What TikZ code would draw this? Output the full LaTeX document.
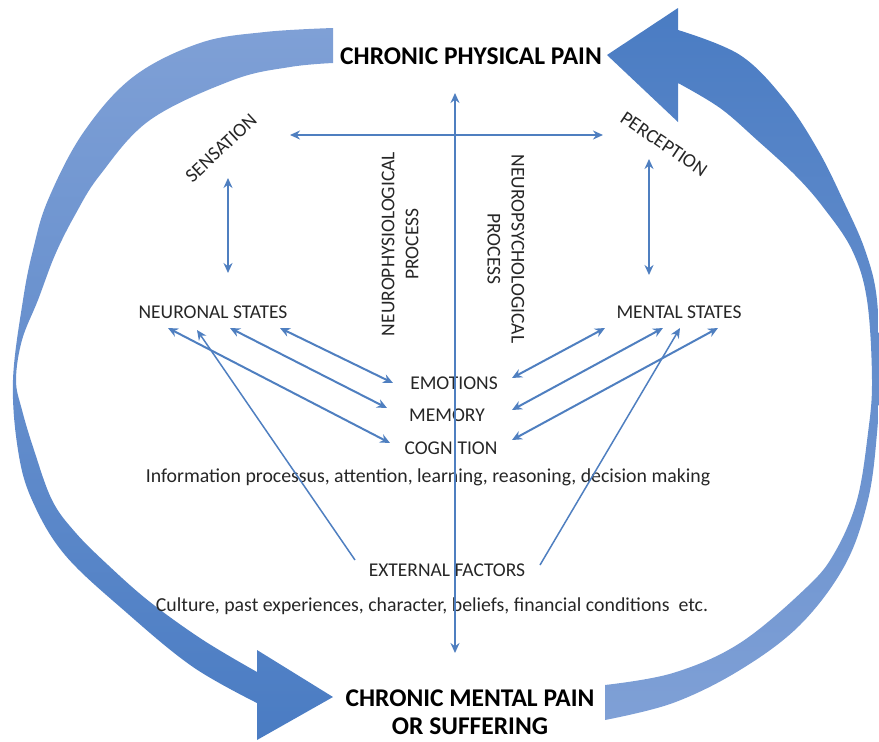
\documentclass[tikz,border=0pt]{standalone}
\usepackage{fontspec}
\setmainfont{Carlito}
\usetikzlibrary{arrows.meta}
\definecolor{lnblue}{HTML}{4F7FC0}
\definecolor{bandlight}{HTML}{7FA0D6}
\definecolor{banddark}{HTML}{4A7CC3}
\definecolor{txt}{HTML}{262626}
\begin{document}
\begin{tikzpicture}[x=1pt,y=-1pt,
  lbl/.style={font=\fontsize{19.5}{24}\selectfont, text=txt, inner sep=0pt},
  dsc/.style={font=\fontsize{19.8}{24}\selectfont, text=txt, inner sep=0pt},
  ttl/.style={font=\fontsize{25.5}{28}\selectfont\bfseries, text=black, inner sep=0pt, align=center},
  dbl/.style={draw=lnblue, line width=2pt, {Stealth[length=10pt,width=9pt]}-{Stealth[length=10pt,width=9pt]}},
  sgl/.style={draw=lnblue, line width=1.5pt, -{Stealth[length=10pt,width=9pt]}},
]
\useasboundingbox (0,0) rectangle (879,742);

% left curved band (physical -> mental)
\path[top color=bandlight, bottom color=banddark]
  (333,63) -- plot[smooth, tension=0.6] coordinates {(333,28) (265,32) (200,43) (133,77) (83,133) (48,200) (33,250) (23,300) (13,380) (18,450) (32,500) (65,555) (127,613) (193,667) (257,703)}
  -- (257,740) -- (333,697) -- (257,650)
  -- plot[smooth, tension=0.6] coordinates {(257,672) (203,640) (150,602) (108,565) (75,532) (52,500) (34,450) (22,410) (16,380) (22,340) (38,300) (55,255) (75,215) (100,175) (150,120) (233,80) (290,67) (333,63)}
  -- cycle;

% right curved band (mental -> physical)
\path[top color=banddark, bottom color=bandlight]
  (605,685) -- plot[smooth, tension=0.6] coordinates {(605,720) (673,703) (740,670) (800,625) (845,565) (868,500) (877,433) (879,380) (877,300) (865,250) (843,200) (818,150) (785,100) (740,55) (678,30)}
  -- (678,8) -- (607,55) -- (678,122)
  -- plot[smooth, tension=0.6] coordinates {(678,83) (720,108) (757,140) (795,175) (823,207) (852,250) (867,300) (872,380) (868,433) (857,500) (835,552) (807,587) (740,643) (673,673) (605,685)}
  -- cycle;

% titles
\node[ttl] (phys) at (471,56) {CHRONIC PHYSICAL PAIN};
\node[ttl] (ment) at (470,712) {CHRONIC MENTAL PAIN\\OR SUFFERING};

% labels
\node[lbl, rotate=43] (sens) at (221,148) {SENSATION};
\node[lbl, rotate=-34] (perc) at (664,144) {PERCEPTION};
\node[lbl] (neur) at (213,312) {NEURONAL STATES};
\node[lbl] (mst) at (679,312) {MENTAL STATES};
\node[lbl, rotate=90, align=center] (nphys) at (400,244) {NEUROPHYSIOLOGICAL\\PROCESS};
\node[lbl, rotate=-90, align=center] (npsy) at (506,249) {NEUROPSYCHOLOGICAL\\PROCESS};
\node[lbl] (emo) at (454,383) {EMOTIONS};
\node[lbl] (mem) at (447,415) {MEMORY};
\node[lbl] (cog) at (451,448) {COGNITION};
\node[dsc, anchor=base] (cogd) at (428,482) {Information processus, attention, learning, reasoning, decision making};
\node[lbl] (ext) at (447,570) {EXTERNAL FACTORS};
\node[dsc, anchor=base] (extd) at (432,611) {Culture, past experiences, character, beliefs, financial conditions\ \ etc.};

% connector end points
\coordinate (sensR) at (290,135);
\coordinate (percL) at (603,135);
\coordinate (physB) at (455,93);
\coordinate (mentT) at (455,653);
\coordinate (sensB) at (228,178);
\coordinate (neurT) at (228,273);
\coordinate (percB) at (649,159);
\coordinate (mstT) at (649,275);
\coordinate (n1) at (168,328);
\coordinate (n2) at (197,330);
\coordinate (n3) at (230,328);
\coordinate (n4) at (280,328);
\coordinate (m1) at (605,328);
\coordinate (m2) at (663,328);
\coordinate (m3) at (680,328);
\coordinate (m4) at (718,328);
\coordinate (emoL) at (393,383);
\coordinate (memL) at (387,408);
\coordinate (cogL) at (390,443);
\coordinate (emoR) at (512,378);
\coordinate (memR) at (512,410);
\coordinate (cogR) at (512,440);
\coordinate (extL) at (355,560);
\coordinate (extR) at (540,565);

% connectors
\draw[dbl] (sensR) -- (percL);
\draw[dbl] (physB) -- (mentT);
\draw[dbl] (sensB) -- (neurT);
\draw[dbl] (percB) -- (mstT);
\draw[dbl] (n4) -- (emoL);
\draw[dbl] (n3) -- (memL);
\draw[dbl] (n1) -- (cogL);
\draw[dbl] (m1) -- (emoR);
\draw[dbl] (m2) -- (memR);
\draw[dbl] (m4) -- (cogR);
\draw[sgl] (extL) -- (n2);
\draw[sgl] (extR) -- (m3);
\end{tikzpicture}
\end{document}
